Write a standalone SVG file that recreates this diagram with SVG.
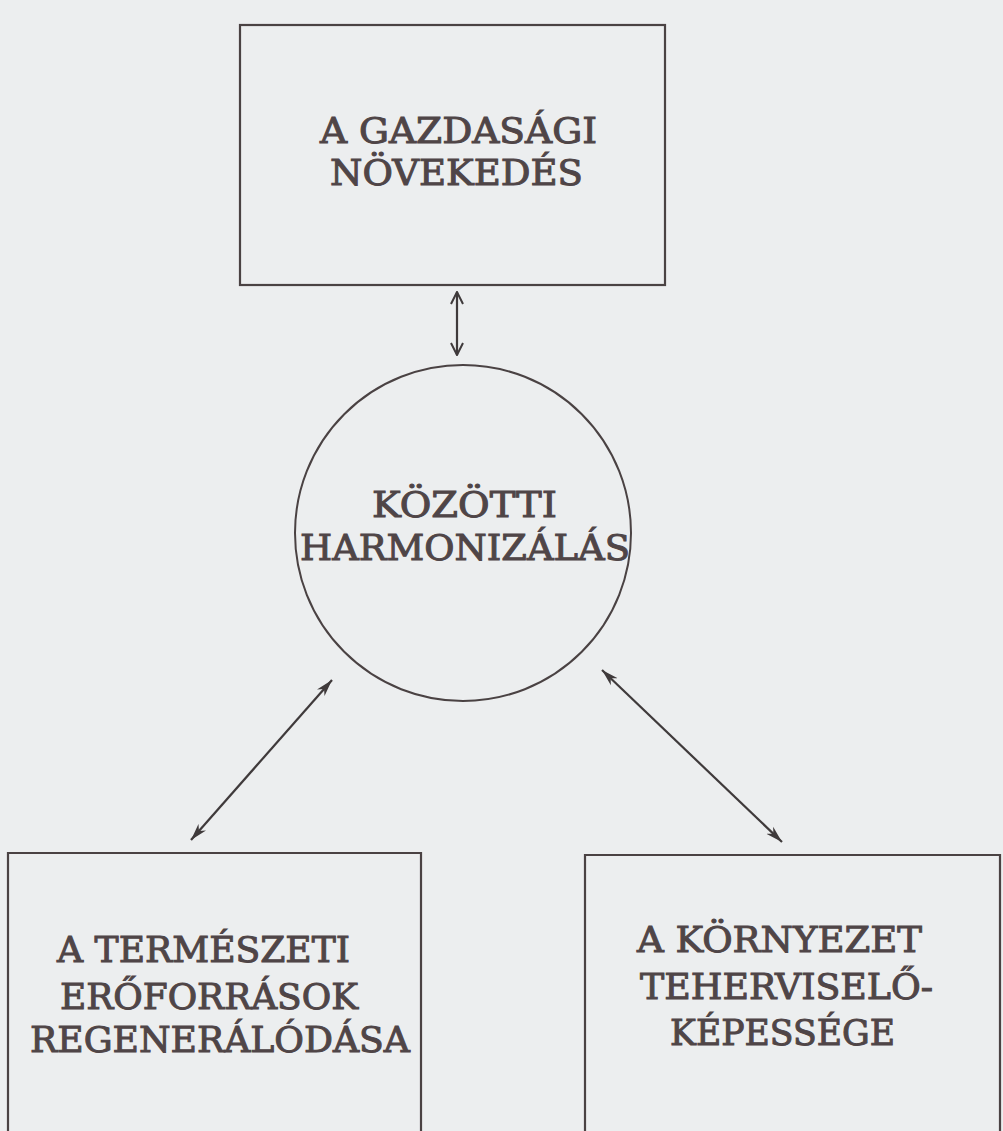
<svg xmlns="http://www.w3.org/2000/svg" width="1003" height="1131" viewBox="0 0 1003 1131">
<style>
  .box { fill: none; stroke: #4a4243; stroke-width: 2.2; }
  .circ { fill: none; stroke: #4a4243; stroke-width: 2; }
  .lbl { font-family: "DejaVu Serif", "Liberation Serif", serif; font-size: 35px; fill: #4f4547; stroke: #4f4547; stroke-width: 1; }
  .conn { stroke: #3f3a3b; stroke-width: 2.2; fill: none; }
</style>
<defs>
  <marker id="chev" viewBox="0 0 14 14" refX="13" refY="7" markerWidth="14" markerHeight="14" markerUnits="userSpaceOnUse" orient="auto-start-reverse">
    <path d="M1,1 L13,7 L1,13" fill="none" stroke="#3f3a3b" stroke-width="2"/>
  </marker>
  <marker id="barb" viewBox="0 0 18 12" refX="17" refY="6" markerWidth="18" markerHeight="12" markerUnits="userSpaceOnUse" orient="auto-start-reverse">
    <path d="M0,1 L17,6 L0,11 L5,6 Z" fill="#3f3a3b"/>
  </marker>
</defs>
<rect x="0" y="0" width="1003" height="1131" fill="#eceeef"/>
<g id="node-growth">
  <rect class="box" x="240" y="25" width="425" height="260"/>
  <text class="lbl" x="320" y="143" textLength="277" lengthAdjust="spacingAndGlyphs">A GAZDASÁGI</text>
  <text class="lbl" x="330" y="185" textLength="253" lengthAdjust="spacingAndGlyphs">NÖVEKEDÉS</text>
</g>
<g id="node-harmonization">
  <circle class="circ" cx="463" cy="533" r="168"/>
  <text class="lbl" x="372" y="517" textLength="185" lengthAdjust="spacingAndGlyphs">KÖZÖTTI</text>
  <text class="lbl" x="300" y="560" textLength="330" lengthAdjust="spacingAndGlyphs">HARMONIZÁLÁS</text>
</g>
<g id="node-resources">
  <path class="box" d="M8,1131 L8,853 L421,853 L421,1131"/>
  <text class="lbl" x="57" y="962" textLength="293" lengthAdjust="spacingAndGlyphs">A TERMÉSZETI</text>
  <text class="lbl" x="60" y="1009" textLength="298" lengthAdjust="spacingAndGlyphs">ERŐFORRÁSOK</text>
  <text class="lbl" x="30" y="1052" textLength="380" lengthAdjust="spacingAndGlyphs">REGENERÁLÓDÁSA</text>
</g>
<g id="node-environment">
  <path class="box" d="M585,1131 L585,855 L1000,855 L1000,1131"/>
  <text class="lbl" x="637" y="952" textLength="285" lengthAdjust="spacingAndGlyphs">A KÖRNYEZET</text>
  <text class="lbl" x="640" y="999" textLength="293" lengthAdjust="spacingAndGlyphs">TEHERVISELŐ-</text>
  <text class="lbl" x="670" y="1045" textLength="225" lengthAdjust="spacingAndGlyphs">KÉPESSÉGE</text>
</g>
<g id="connectors">
  <line class="conn" x1="457" y1="292" x2="457" y2="355" marker-start="url(#chev)" marker-end="url(#chev)"/>
  <line class="conn" x1="332" y1="680" x2="191" y2="840" marker-start="url(#barb)" marker-end="url(#barb)"/>
  <line class="conn" x1="602" y1="670" x2="782" y2="842" marker-start="url(#barb)" marker-end="url(#barb)"/>
</g>
</svg>
